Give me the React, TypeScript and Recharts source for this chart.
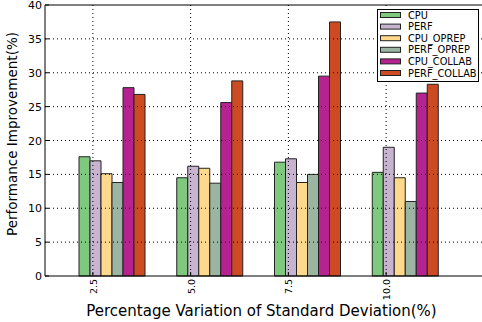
import React from 'react';
import { BarChart, Bar, XAxis, YAxis, ReferenceLine, Label } from 'recharts';

const categories = ['2.5', '5.0', '7.5', '10.0'];
const seriesNames = ['CPU', 'PERF', 'CPU_OPREP', 'PERF_OPREP', 'CPU_COLLAB', 'PERF_COLLAB'];
const cpu = [17.6, 14.5, 16.8, 15.3];
const perf = [17.0, 16.2, 17.3, 19.0];
const cpuOprep = [15.1, 15.9, 13.8, 14.5];
const perfOprep = [13.8, 13.7, 15.0, 11.0];
const cpuCollab = [27.8, 25.6, 29.5, 27.0];
const perfCollab = [26.8, 28.8, 37.5, 28.3];
const yTicks = [0, 5, 10, 15, 20, 25, 30, 35, 40];

const seriesValues = [cpu, perf, cpuOprep, perfOprep, cpuCollab, perfCollab];
const colors = ['#7fc97f', '#c8b3d0', '#fed98c', '#9bb5a2', '#b62290', '#cc4b23'];

const data = categories.map((c, i) => {
  const row: Record<string, string | number> = { x: c };
  seriesNames.forEach((n, j) => {
    row[n] = seriesValues[j][i];
  });
  return row;
});

const W = 482;
const H = 322;
const X_H = 46;
const M = { top: 5, right: 0, bottom: 0, left: 0 };
const Y_W = 45;
const PLOT_TOP = M.top;
const PLOT_BOTTOM = H - X_H;
const PLOT_LEFT = Y_W;
const PLOT_RIGHT = W - M.right;
const TICK_SHIFT = -20;
const FONT = 'DejaVu Sans, sans-serif';

const XTick = (props: any) => {
  const { x, payload } = props;
  const tx = x + TICK_SHIFT;
  return (
    <g>
      <line x1={tx} x2={tx} y1={PLOT_TOP} y2={PLOT_BOTTOM} stroke="#000" strokeWidth={1} strokeDasharray="1 3" />
      <line x1={tx} x2={tx} y1={PLOT_BOTTOM - 4} y2={PLOT_BOTTOM} stroke="#000" strokeWidth={1} />
      <text
        x={tx + 4}
        y={PLOT_BOTTOM + 3}
        transform={`rotate(-90 ${tx + 4} ${PLOT_BOTTOM + 3})`}
        textAnchor="end"
        fontSize={9.5}
        fontFamily={FONT}
        fill="#000"
      >
        {payload.value}
      </text>
    </g>
  );
};

const YTick = (props: any) => {
  const { y, payload } = props;
  return (
    <g>
      {payload.value !== 0 && payload.value !== 40 ? (
        <line x1={PLOT_LEFT} x2={PLOT_RIGHT} y1={y} y2={y} stroke="#000" strokeWidth={1} strokeDasharray="1 3" />
      ) : null}
      <line x1={PLOT_LEFT} x2={PLOT_LEFT + 4} y1={y} y2={y} stroke="#000" strokeWidth={1} />
      <text x={PLOT_LEFT - 3} y={y + 4} textAnchor="end" fontSize={11} fontFamily={FONT} fill="#000">
        {payload.value}
      </text>
    </g>
  );
};

const LEG = { x: 377, y: 9, w: 102, h: 73, row: 11.6 };

const LegendBox = () => (
  <svg
    width={LEG.w + 2}
    height={LEG.h + 2}
    style={{ position: 'absolute', left: LEG.x - 1, top: LEG.y - 1, zIndex: 10 }}
  >
    <rect x={1.5} y={1.5} width={LEG.w - 1} height={LEG.h - 1} fill="#fff" stroke="#000" strokeWidth={1} />
    {seriesNames.map((n, i) => {
      const cy = 7 + i * LEG.row;
      return (
        <g key={n}>
          <rect x={4.5} y={cy - 2.5} width={20} height={5} fill={colors[i]} stroke="#222" strokeWidth={1} />
          <text x={32} y={cy + 3.5} fontSize={9.8} fontFamily={FONT} fill="#000">
            {n}
          </text>
        </g>
      );
    })}
  </svg>
);

export default function App() {
  return (
    <div style={{ position: 'fixed', left: 0, top: 0, width: W, height: H, background: '#fff' }}>
      <BarChart width={W} height={H} data={data} margin={M} barGap={0} barCategoryGap={15}>
        {seriesNames.map((n, i) => (
          <Bar
            key={n}
            dataKey={n}
            fill={colors[i]}
            stroke="#222"
            strokeWidth={1}
            isAnimationActive={false}
          />
        ))}
        <ReferenceLine y={40} stroke="#000" strokeWidth={1} ifOverflow="extendDomain" />
        <XAxis
          dataKey="x"
          type="category"
          padding={{ left: 19, right: 27 }}
          axisLine={{ stroke: '#000', strokeWidth: 1 }}
          tickLine={false}
          tick={<XTick />}
          interval={0}
          height={X_H}
        >
          <Label
            content={() => (
              <text x={(PLOT_LEFT + PLOT_RIGHT) / 2 - 2} y={H - 6} textAnchor="middle" fontSize={15} fontFamily={FONT} fill="#000">
                Percentage Variation of Standard Deviation(%)
              </text>
            )}
          />
        </XAxis>
        <YAxis
          type="number"
          domain={[0, 40]}
          ticks={yTicks}
          width={Y_W}
          axisLine={{ stroke: '#000', strokeWidth: 1 }}
          tickLine={false}
          tick={<YTick />}
          interval={0}
        >
          <Label
            content={() => (
              <text
                x={17}
                y={134}
                transform={`rotate(-90 17 134)`}
                textAnchor="middle"
                fontSize={13.5}
                fontFamily={FONT}
                fill="#000"
              >
                Performance Improvement(%)
              </text>
            )}
          />
        </YAxis>
      </BarChart>
      <LegendBox />
    </div>
  );
}
